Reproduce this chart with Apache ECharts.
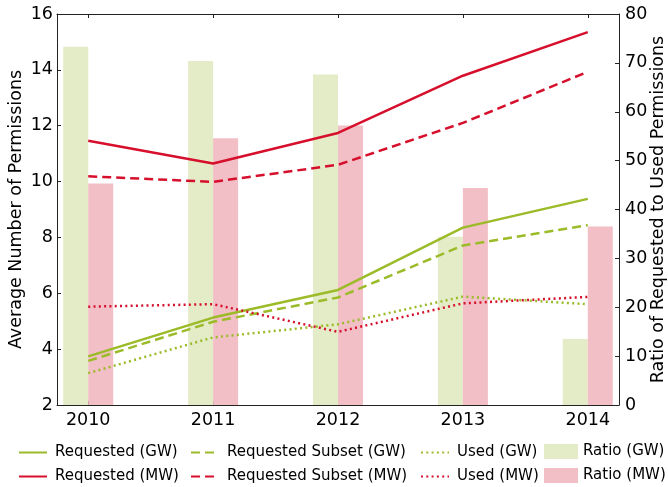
<!DOCTYPE html>
<html>
<head>
<meta charset="utf-8">
<script src="https://cdn.jsdelivr.net/npm/echarts@6/dist/echarts.min.js"></script>
<style>
  html, body { margin: 0; padding: 0; background: #fff; }
  #chart { width: 668px; height: 487px; }
</style>
</head>
<body>
<div id="chart"></div>
<script>
// data
var years = [2010, 2011, 2012, 2013, 2014];
var requestedGW = [3.74, 5.13, 6.12, 8.35, 9.38];
var subsetGW = [3.58, 4.98, 5.85, 7.71, 8.44];
var usedGW = [3.14, 4.42, 4.89, 5.88, 5.61];
var requestedMW = [11.46, 10.65, 11.74, 13.79, 15.35];
var subsetMW = [10.19, 9.99, 10.6, 12.1, 13.93];
var usedMW = [5.52, 5.61, 4.62, 5.64, 5.87];
var ratioGW = [73.3, 70.4, 67.6, 34.4, 13.5];
var ratioMW = [45.3, 54.6, 57.2, 44.4, 36.5];

var GREEN = '#9bbb28';
var RED = '#d6102c';
var FONT = 'DejaVu Sans';

var pairs = function (vals) {
    return years.map(function (y, i) { return [y, vals[i]]; });
};

var lineSeries = function (name, vals, color, type) {
    return {
        name: name,
        type: 'line',
        yAxisIndex: 0,
        data: pairs(vals),
        symbol: 'none',
        z: 5,
        lineStyle: { color: color, width: 2.5, type: type, cap: 'butt' },
        itemStyle: { color: color }
    };
};

var axisLine = { show: true, lineStyle: { color: '#222', width: 1 } };
var tick = { show: true, inside: true, length: 4, lineStyle: { color: '#222' } };

// one legend per item so that the 4x2 layout is exact
var lineLegend = function (left, top, name) {
    return {
        left: left, top: top,
        itemWidth: 28, itemHeight: 14,
        data: [name],
        itemStyle: { opacity: 0 },
        textStyle: { fontFamily: FONT, fontSize: 15, color: '#000', padding: [0, 0, 0, 3] }
    };
};
var barLegend = function (left, top, name) {
    return {
        left: left, top: top,
        itemWidth: 34, itemHeight: 15,
        icon: 'rect',
        data: [name],
        textStyle: { fontFamily: FONT, fontSize: 15, color: '#000' }
    };
};

var myChart = echarts.init(document.getElementById('chart'));
myChart.setOption({
    animation: false,
    grid: { left: 57, right: 49, top: 14, bottom: 82, outerBoundsMode: 'none' },
    legend: [
        lineLegend(13, 440, 'Requested (GW)'),
        lineLegend(13, 464, 'Requested (MW)'),
        lineLegend(185, 440, 'Requested Subset (GW)'),
        lineLegend(185, 464, 'Requested Subset (MW)'),
        lineLegend(415, 440, 'Used (GW)'),
        lineLegend(415, 464, 'Used (MW)'),
        barLegend(539, 439, 'Ratio (GW)'),
        barLegend(539, 463, 'Ratio (MW)')
    ],
    xAxis: [{
        type: 'value',
        min: 2009.75,
        max: 2014.25,
        position: 'bottom',
        axisLine: axisLine,
        axisTick: Object.assign({ customValues: years }, tick),
        axisLabel: {
            customValues: years, fontFamily: FONT, fontSize: 17.5, color: '#000', margin: 6,
            formatter: function (v) { return String(v); }
        },
        splitLine: { show: false }
    }, {
        type: 'value',
        min: 2009.75,
        max: 2014.25,
        position: 'top',
        axisLine: axisLine,
        axisTick: Object.assign({ customValues: years }, tick),
        axisLabel: { show: false },
        splitLine: { show: false }
    }],
    yAxis: [{
        type: 'value',
        min: 2,
        max: 16,
        interval: 2,
        position: 'left',
        name: 'Average Number of Permissions',
        nameLocation: 'middle',
        nameGap: 32,
        nameMoveOverlap: false,
        nameTextStyle: { fontFamily: FONT, fontSize: 17.5, color: '#000' },
        axisLine: axisLine,
        axisTick: tick,
        axisLabel: { fontFamily: FONT, fontSize: 17.5, color: '#000', margin: 4 },
        splitLine: { show: false }
    }, {
        type: 'value',
        min: 0,
        max: 80,
        interval: 10,
        position: 'right',
        name: 'Ratio of Requested to Used Permissions',
        nameLocation: 'middle',
        nameGap: 30,
        nameMoveOverlap: false,
        nameRotate: 90,
        nameTextStyle: { fontFamily: FONT, fontSize: 17.5, color: '#000' },
        axisLine: axisLine,
        axisTick: tick,
        axisLabel: { fontFamily: FONT, fontSize: 17.5, color: '#000', margin: 6 },
        splitLine: { show: false }
    }],
    series: [
        {
            name: 'Ratio (GW)', type: 'bar', yAxisIndex: 1, data: pairs(ratioGW),
            barWidth: 25, barGap: '0%', z: 1, itemStyle: { color: '#e4ebc7' }
        },
        {
            name: 'Ratio (MW)', type: 'bar', yAxisIndex: 1, data: pairs(ratioMW),
            barWidth: 25, barGap: '0%', z: 1, itemStyle: { color: '#f2bfc7' }
        },
        lineSeries('Requested (GW)', requestedGW, GREEN, 'solid'),
        lineSeries('Requested Subset (GW)', subsetGW, GREEN, [9, 5]),
        lineSeries('Used (GW)', usedGW, GREEN, [2, 3.3]),
        lineSeries('Requested (MW)', requestedMW, RED, 'solid'),
        lineSeries('Requested Subset (MW)', subsetMW, RED, [9, 5]),
        lineSeries('Used (MW)', usedMW, RED, [2, 3.3])
    ]
});
</script>
</body>
</html>
